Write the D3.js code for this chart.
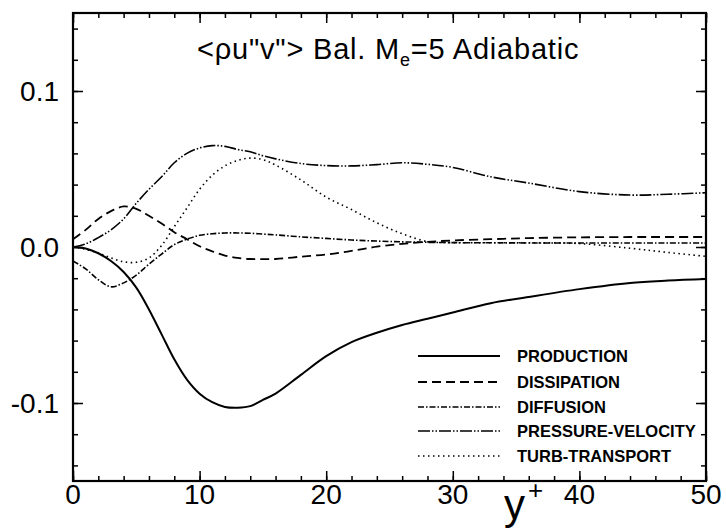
<!DOCTYPE html>
<html><head><meta charset="utf-8">
<script src="https://cdn.jsdelivr.net/npm/d3@7"></script>
<style>
html,body{margin:0;padding:0;background:#fff;}
svg{display:block;font-family:"Liberation Sans",Arial,Helvetica,sans-serif;}
</style></head>
<body>
<svg id="c" width="726" height="531"></svg>
<script>
// ---- data ----
const yPlus = [0,1,2,3,4,5,6,7,8,9,10,11,12,13,14,15,16,18,20,22,24,26,28,30,33,36,40,44,47,50];
const production = [0,-0.001,-0.004,-0.009,-0.016,-0.026,-0.040,-0.056,-0.072,-0.085,-0.094,-0.0995,-0.1025,-0.103,-0.102,-0.098,-0.094,-0.082,-0.070,-0.061,-0.055,-0.050,-0.046,-0.042,-0.036,-0.032,-0.027,-0.023,-0.0215,-0.0205];
const dissipation = [0.005,0.011,0.018,0.023,0.026,0.0245,0.020,0.015,0.0095,0.005,0.0005,-0.0028,-0.0055,-0.007,-0.0077,-0.0078,-0.0077,-0.0062,-0.0048,-0.0025,0.0002,0.002,0.0033,0.0042,0.005,0.0057,0.0062,0.0064,0.0064,0.0064];
const diffusion = [-0.009,-0.014,-0.021,-0.0255,-0.023,-0.018,-0.011,-0.0045,0.0015,0.005,0.0075,0.0085,0.009,0.009,0.0088,0.0083,0.0078,0.0065,0.0055,0.0045,0.0038,0.0033,0.003,0.0028,0.0027,0.0026,0.0026,0.0026,0.0026,0.0026];
const pressureVelocity = [0,0.002,0.006,0.011,0.018,0.028,0.037,0.045,0.054,0.060,0.0635,0.065,0.0645,0.0625,0.061,0.0585,0.0565,0.0535,0.0522,0.052,0.0528,0.054,0.053,0.051,0.045,0.041,0.0355,0.0333,0.0338,0.0348];
const turbTransport = [0,-0.0015,-0.004,-0.007,-0.0095,-0.0098,-0.007,0.001,0.013,0.025,0.037,0.046,0.052,0.0555,0.057,0.056,0.0525,0.043,0.032,0.024,0.0155,0.0085,0.0035,0.0028,0.0027,0.0027,0.0022,-0.0008,-0.0035,-0.006];
const seriesNames = ["PRODUCTION","DISSIPATION","DIFFUSION","PRESSURE-VELOCITY","TURB-TRANSPORT"];
const xTickLabels = [0,10,20,30,40,50];
const yTickLabels = [-0.1,0.0,0.1];

// ---- layout ----
const L=73, R=706, T=13, B=481;
const x = d3.scaleLinear().domain([0,50]).range([L,R]);
const y = d3.scaleLinear().domain([-0.15,0.15]).range([B,T]);
const svg = d3.select("#c");

const styles = [
  {dash:null, w:2},
  {dash:"9,5", w:1.8},
  {dash:"6,2,1.5,2", w:1.6},
  {dash:"12,2,1.5,2,1.5,2", w:1.6},
  {dash:"1.5,3.5", w:1.6}
];
const allSeries = [production,dissipation,diffusion,pressureVelocity,turbTransport];

const line = d3.line().x(d=>x(d[0])).y(d=>y(d[1])).curve(d3.curveCatmullRom.alpha(0.5));
svg.append("clipPath").attr("id","cl").append("rect").attr("x",L).attr("y",T).attr("width",R-L).attr("height",B-T);
const g = svg.append("g").attr("clip-path","url(#cl)");
allSeries.forEach((s,i)=>{
  g.append("path").datum(yPlus.map((v,j)=>[v,s[j]]))
   .attr("d",line).attr("fill","none").attr("stroke","#000")
   .attr("stroke-width",styles[i].w)
   .attr("stroke-dasharray",styles[i].dash);
});

// ---- axes (ticks inward on all sides) ----
const xMinor = d3.range(0,51,2), yMinor = d3.range(-14,15,2).map(v=>v/100);
function ax(axisGen, tr){
  const a = svg.append("g").attr("transform",tr).call(axisGen);
  a.select(".domain").remove();
  a.selectAll("line").attr("stroke","#000").attr("stroke-width",1.5);
  return a;
}
ax(d3.axisBottom(x).tickValues(xMinor).tickSize(-5).tickFormat(""),`translate(0,${B})`);
ax(d3.axisBottom(x).tickValues(xTickLabels).tickSize(-10).tickFormat(""),`translate(0,${B})`);
ax(d3.axisTop(x).tickValues(xMinor).tickSize(-5).tickFormat(""),`translate(0,${T})`);
ax(d3.axisTop(x).tickValues(xTickLabels).tickSize(-10).tickFormat(""),`translate(0,${T})`);
ax(d3.axisLeft(y).tickValues(yMinor).tickSize(-5).tickFormat(""),`translate(${L},0)`);
ax(d3.axisLeft(y).tickValues(yTickLabels).tickSize(-10).tickFormat(""),`translate(${L},0)`);
ax(d3.axisRight(y).tickValues(yMinor).tickSize(-5).tickFormat(""),`translate(${R},0)`);
ax(d3.axisRight(y).tickValues(yTickLabels).tickSize(-10).tickFormat(""),`translate(${R},0)`);

svg.append("rect").attr("x",L).attr("y",T).attr("width",R-L).attr("height",B-T)
  .attr("fill","none").attr("stroke","#000").attr("stroke-width",2.2);

// tick labels
svg.append("g").selectAll("text").data(xTickLabels).join("text")
  .attr("x",d=>x(d)).attr("y",504).attr("text-anchor","middle")
  .attr("font-size",28).text(d=>d);
svg.append("g").selectAll("text").data(yTickLabels).join("text")
  .attr("x",L-14).attr("y",d=>y(d)+10).attr("text-anchor","end")
  .attr("font-size",28).text(d=>d3.format(".1f")(d).replace("−","-"));

// axis title y+
const yl = svg.append("text").attr("x",504).attr("y",519).attr("font-size",42);
yl.append("tspan").text("y");
yl.append("tspan").attr("dx",3).attr("dy",-20).attr("font-size",26).text("+");

// chart title
const t = svg.append("text").attr("x",197).attr("y",59).attr("font-size",29).attr("letter-spacing",0.8);
t.append("tspan").text("<ρu\"v\"> Bal. M");
t.append("tspan").attr("dy",7).attr("font-size",18).text("e");
t.append("tspan").attr("dy",-7).text("=5 Adiabatic");

// legend
const rows = [356,382,407,431,456];
seriesNames.forEach((n,i)=>{
  svg.append("line").attr("x1",418).attr("x2",500).attr("y1",rows[i]).attr("y2",rows[i])
    .attr("stroke","#000").attr("stroke-width",styles[i].w).attr("stroke-dasharray",styles[i].dash);
  svg.append("text").attr("x",517).attr("y",rows[i]+6).attr("font-size",16.5)
    .attr("font-weight","bold").text(n);
});
</script>
</body></html>
